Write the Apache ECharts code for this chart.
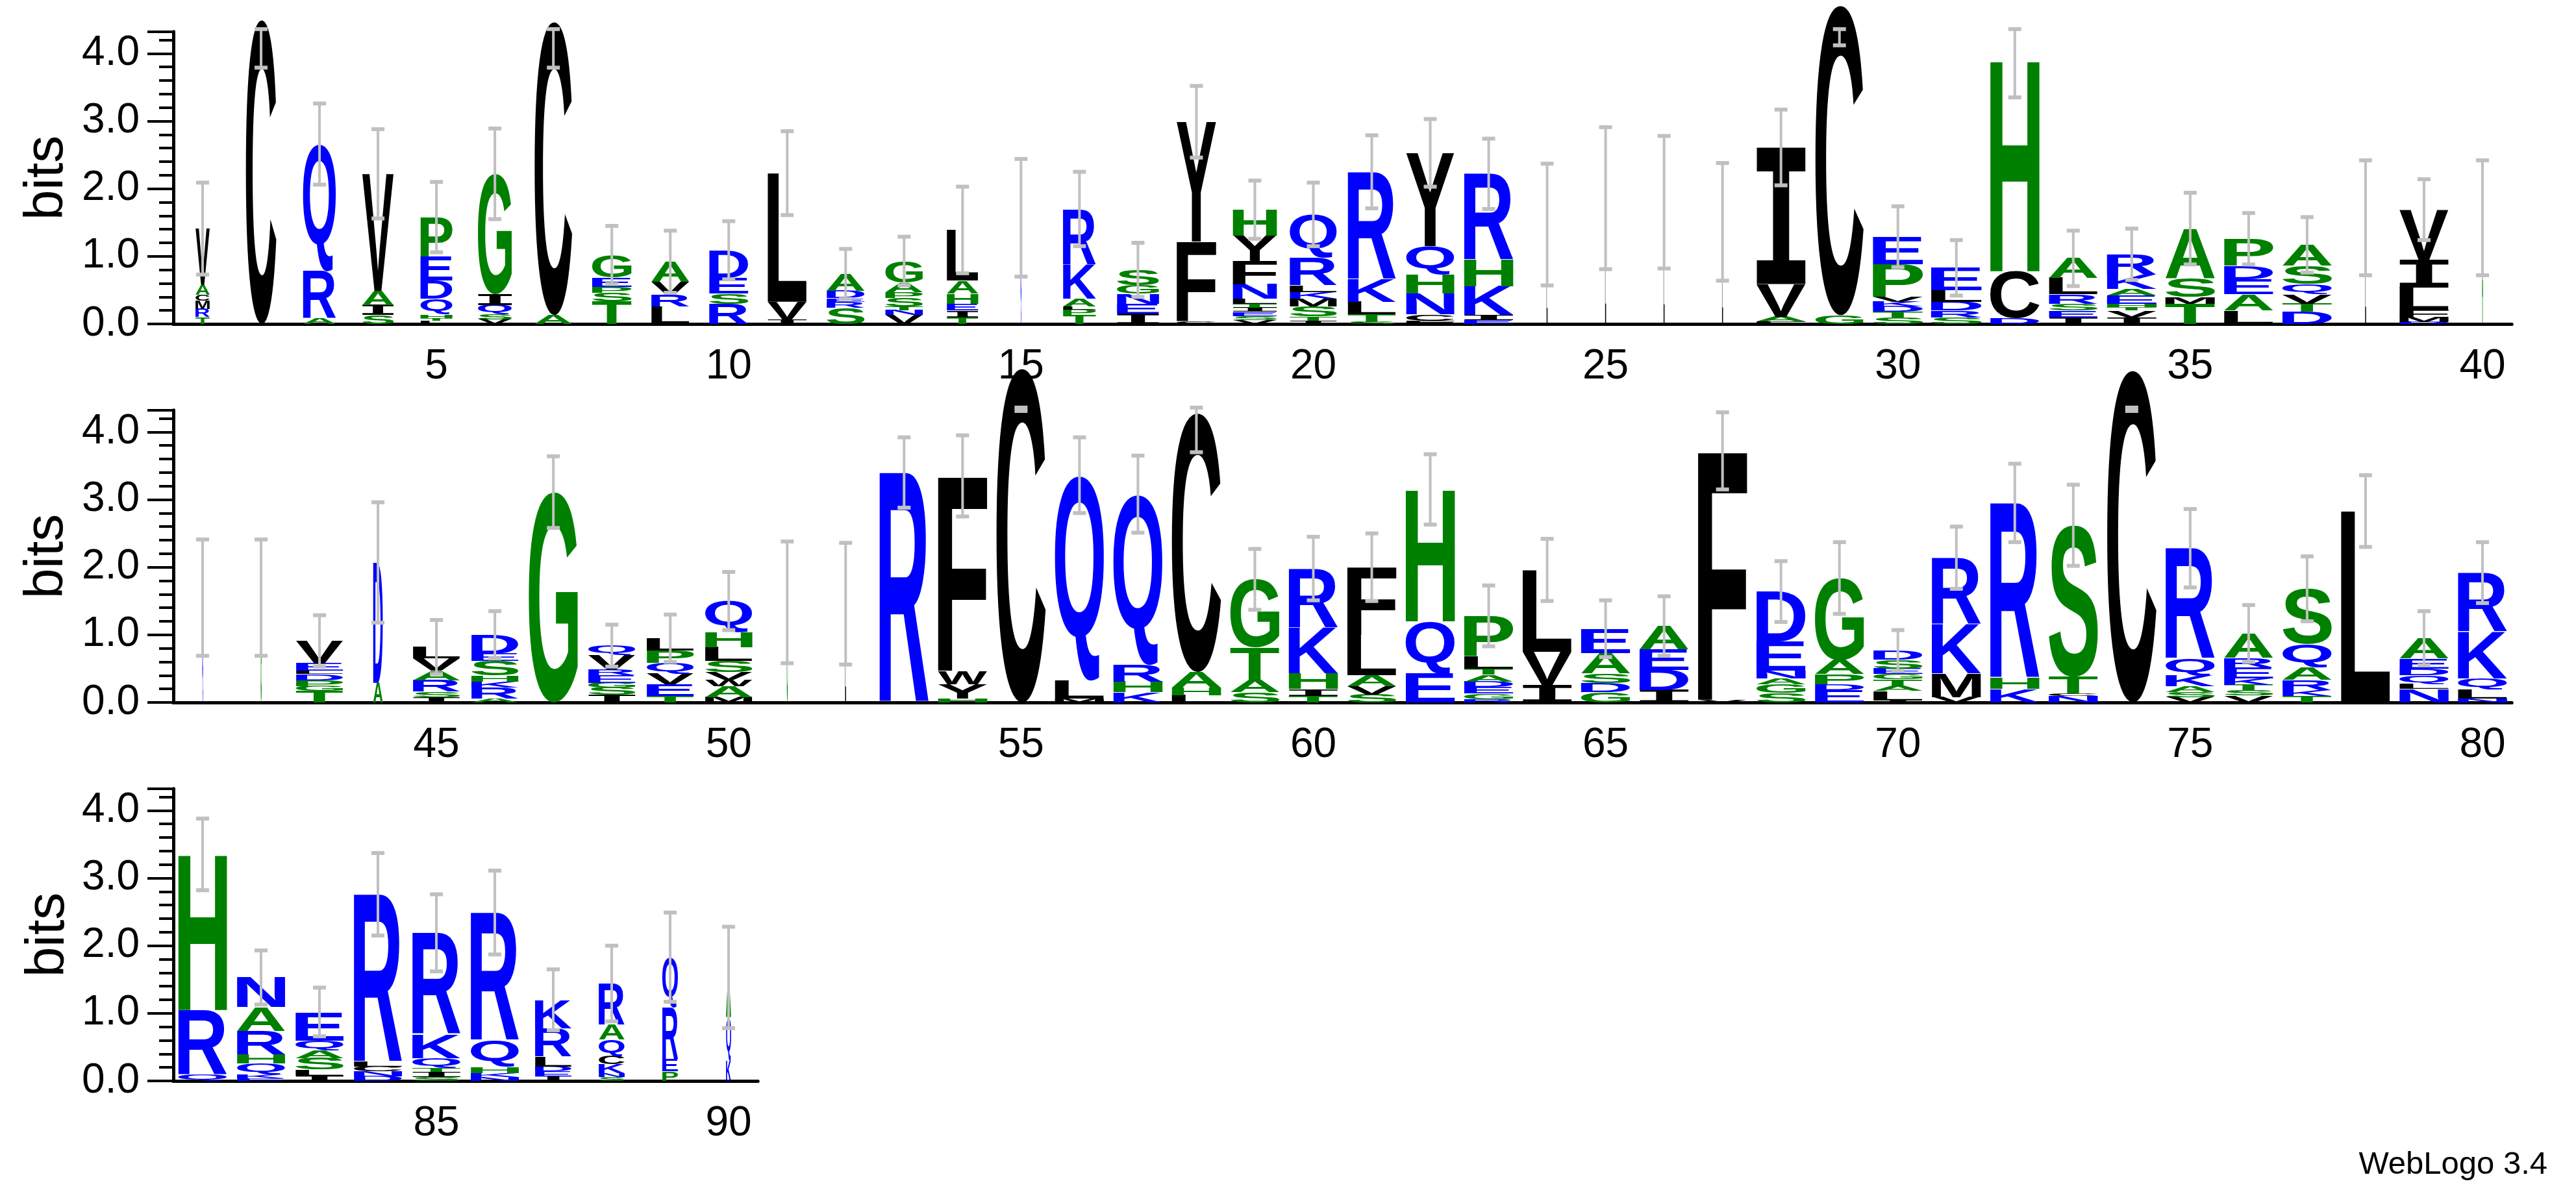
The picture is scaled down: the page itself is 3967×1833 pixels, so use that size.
<!DOCTYPE html>
<html><head><meta charset="utf-8">
<script src="https://cdn.jsdelivr.net/npm/echarts@6/dist/echarts.min.js"></script>
<style>html,body{margin:0;padding:0;background:#fff}#c{width:3967px;height:1833px}</style>
</head><body><div id="c"></div>
<script>
// position numbers per row
const row1 = Array.from({length:40},(_,i)=>String(i+1));
const row2 = Array.from({length:40},(_,i)=>String(i+41));
const row3 = Array.from({length:10},(_,i)=>String(i+81));
// letter stacks (bottom -> top), bits
const stacks = [
"T:.1 R:.12 M:.12 C:.09 A:.15 V:.83","C:4.5","A:.08 R:.7 Q:1.88","S:.13 I:.15 A:.21 V:1.73",
"L:.05 T:.04 H:.05 Q:.23 D:.27 E:.36 P:.58","V:.07 S:.07 Q:.14 I:.16 G:1.78","A:.13 C:4.34",
"T:.33 S:.13 P:.09 E:.14 G:.33","L:.26 R:.17 V:.19 A:.3","R:.3 S:.15 E:.23 D:.41","I:.06 V:.27 L:1.9",
"S:.24 R:.09 E:.05 D:.11 A:.25","V:.13 N:.07 T:.06 S:.12 P:.09 A:.14 G:.32","T:.1 I:.1 E:.1 H:.15 A:.19 L:.75",
"Q:1.57","T:.13 P:.08 L:.05 A:.11 K:.51 R:.82","I:.15 E:.15 N:.15 G:.12 S:.23","C:.04 F:1.18 Y:1.77",
"V:.06 S:.06 E:.06 I:.06 T:.06 L:.07 N:.22 F:.34 Y:.38 H:.38","I:.05 T:.06 S:.15 M:.11 K:.1 L:.1 R:.41 Q:.64",
"S:.03 T:.11 L:.19 K:.33 R:1.59","F:.05 C:.09 N:.31 H:.28 Q:.42 Y:1.38","E:.06 I:.07 K:.43 H:.39 R:1.27",
"L:1.47","L:1.86","L:1.8","L:1.51","F:.04 A:.07 V:.48 I:2.02","G:.13 C:4.58","S:.1 T:.08 D:.08 K:.07 V:.07 P:.48 E:.41",
"S:.1 R:.1 D:.13 L:.17 E:.33","D:.09 C:.69 H:3.12","I:.1 E:.1 S:.1 R:.14 L:.24 A:.29",
"I:.1 V:.1 T:.05 H:.05 E:.12 A:.1 K:.21 R:.3","T:.3 M:.1 S:.28 A:.73","L:.2 A:.24 E:.22 D:.2 P:.4",
"D:.18 T:.12 V:.14 Q:.15 S:.27 A:.31","L:1.57","D:.03 M:.07 F:.11 L:.33 I:.41 V:.74","A:1.57",
"Q:1.55","G:1.55","T:.17 G:.07 P:.09 D:.09 L:.05 E:.11 V:.33","A:.29 D:1.78","I:.08 S:.08 R:.17 A:.14 V:.18 L:.17",
"A:.06 R:.16 K:.09 H:.09 S:.21 E:.11 D:.28","G:3.11","I:.11 S:.11 G:.07 E:.11 R:.09 V:.21 Q:.14",
"T:.1 E:.17 V:.16 Q:.16 P:.18 L:.18","M:.08 A:.16 W:.1 V:.11 S:.16 L:.21 H:.22 Q:.46","G:1.48","L:1.46",
"R:3.4","H:.06 Y:.21 W:.2 F:2.88","C:4.94","M:.06 L:.27 Q:3.03","K:.15 H:.16 R:.25 Q:2.52","L:.11 H:.11 A:.23 C:3.83",
"S:.15 A:.18 T:.48 G:1.01","T:.1 I:.1 H:.23 K:.68 R:.87","S:.12 V:.12 A:.16 L:.6 F:1.0","E:.43 Q:.77 H:1.95",
"R:.05 G:.08 E:.1 D:.08 A:.1 T:.09 L:.18 P:.6","I:.26 V:.49 L:1.21","G:.15 D:.14 S:.14 A:.3 E:.36","I:.18 D:.3 E:.3 A:.35",
"V:.04 F:3.68","S:.14 G:.13 A:.09 N:.11 E:.43 D:.74","E:.18 D:.09 P:.15 A:.21 G:1.21","I:.03 L:.14 A:.07 T:.1 G:.08 E:.08 S:.13 D:.14",
"V:.08 M:.35 K:.73 R:.98","K:.2 H:.16 R:2.59","N:.1 C:.03 T:.25 S:2.24","C:4.91","V:.08 S:.07 A:.09 K:.16 Q:.25 R:1.63",
"V:.1 S:.08 T:.08 K:.1 E:.16 R:.14 A:.36","T:.1 K:.08 R:.15 A:.19 Q:.34 S:.82","L:2.83","N:.2 L:.07 Q:.13 D:.1 E:.15 A:.3",
"N:.06 L:.14 Q:.16 K:.69 R:.87",
"Q:.1 R:.95 H:2.3","E:.04 K:.06 Q:.16 H:.13 R:.35 A:.35 N:.44","I:.08 L:.09 S:.17 A:.11 Q:.15 E:.42","D:.07 N:.07 C:.07 L:.07 R:2.48",
"S:.06 I:.07 T:.06 Q:.15 K:.35 R:1.5","N:.06 K:.06 H:.09 Q:.39 R:1.89","I:.07 E:.07 D:.07 L:.15 R:.42 K:.42",
"S:.06 N:.06 K:.13 C:.12 Q:.24 A:.22 R:.61","P:.14 E:.18 R:.77 Q:.74","K:.3 Q:.64 A:.59"
];
// fraction of sequences occupied (column width)
const occupancy = [
.28,.6,.65,.62,.63,.67,.74,.78,.75,.77,.77,.75,.74,.62,.02,.65,.83,.78,.87,.93,.95,.95,.97,.02,.02,.02,.02,.97,.95,.99,1,.97,.96,.98,.98,.97,.98,.02,.97,.02,
.02,.02,.93,.19,.93,.93,.97,.93,.93,.93,.02,.02,.97,.97,.97,.97,.97,.97,.97,.97,.97,.97,.97,.97,.97,.97,.97,.97,.97,.97,.97,.97,.97,.97,.97,.97,.97,.97,.97,.97,
.96,.95,.95,.95,.95,.95,.72,.51,.31,.1
];
// error bar half-length (bits)
const errHalf = [
.68,.71,.6,.66,.52,.67,.68,.43,.46,.43,.62,.37,.36,.64,.87,.55,.4,.53,.43,.47,.54,.5,.52,.9,1.05,.98,.87,.56,.59,.45,.41,.55,.41,.38,.53,.38,.41,.85,.45,.85,
.86,.86,.38,.89,.4,.35,.53,.31,.35,.43,.9,.9,.52,.6,.63,.56,.57,.58,.45,.47,.5,.52,.45,.46,.42,.44,.57,.45,.53,.3,.46,.58,.6,.6,.58,.42,.48,.53,.4,.45,
.53,.4,.36,.61,.57,.62,.45,.56,.66,.75
];
const yTicks = [0,1,2,3,4];

const GREEN='#008000', BLUE='#0000ff', BLACK='#000000';
function colorOf(L){ if('GSTHAP'.includes(L)) return GREEN; if('QRKNDE'.includes(L)) return BLUE; return BLACK; }
const FONT='bold 200px "Liberation Sans", Arial, sans-serif';
const FONT_I='bold 200px "DejaVu Sans Mono", monospace';
function fontOf(L){ return L==='I'?FONT_I:FONT; }
const metrics={};
function measure(L){
  if(metrics[L]) return metrics[L];
  const cv=document.createElement('canvas').getContext('2d');
  cv.font=fontOf(L); cv.textBaseline='middle'; cv.textAlign='left';
  const m=cv.measureText(L);
  return metrics[L]={l:m.actualBoundingBoxLeft,r:m.actualBoundingBoxRight,a:m.actualBoundingBoxAscent,d:m.actualBoundingBoxDescent};
}

function build(){
  const chart=echarts.init(document.getElementById('c'),null,{renderer:'canvas'});
  const rows=[{cats:row1,off:0,top:49,left:267,right:99},{cats:row2,off:40,top:632,left:267,right:99},{cats:row3,off:80,top:1215,left:267,width:900}];
  const H=450, YMAX=4.32;
  const grid=[],xAxis=[],yAxis=[],series=[];
  const axisFont={fontFamily:'"Liberation Sans", Arial, sans-serif',fontSize:64,color:'#000'};
  rows.forEach((r,ri)=>{
    const g={top:r.top,height:H,left:r.left};
    if(r.width) g.width=r.width; else g.right=r.right;
    grid.push(g);
    const lab=(i,v)=>(+v)%5===0;
    xAxis.push({type:'category',gridIndex:ri,position:'bottom',data:r.cats,boundaryGap:true,
      axisLine:{lineStyle:{color:'#000',width:5}},
      axisTick:{alignWithLabel:true,interval:lab,length:22,lineStyle:{width:4,color:'#000'}},
      axisLabel:Object.assign({interval:lab,margin:34},axisFont),splitLine:{show:false}});
    xAxis.push({type:'category',gridIndex:ri,position:'bottom',data:r.cats,boundaryGap:true,
      axisLine:{lineStyle:{color:'#000',width:5}},
      axisTick:{alignWithLabel:true,interval:0,length:12,lineStyle:{width:4,color:'#000'}},
      axisLabel:{show:false},splitLine:{show:false}});
    yAxis.push({type:'value',gridIndex:ri,position:'left',min:0,max:YMAX,interval:1,
      name:'bits',nameLocation:'middle',nameGap:150,nameRotate:90,
      nameTextStyle:{fontFamily:'"Liberation Sans", Arial, sans-serif',fontSize:84,color:'#000'},
      axisLine:{show:true,lineStyle:{color:'#000',width:5}},
      axisTick:{show:true,length:40,lineStyle:{width:4,color:'#000'}},
      axisLabel:Object.assign({margin:52,formatter:v=>yTicks.includes(v)?v.toFixed(1):''},axisFont),
      splitLine:{show:false}});
    yAxis.push({type:'value',gridIndex:ri,position:'left',min:0,max:YMAX,interval:0.2,
      axisLine:{show:true,lineStyle:{color:'#000',width:5}},
      axisTick:{show:true,length:22,lineStyle:{width:4,color:'#000'}},
      axisLabel:{show:false},splitLine:{show:false}});
    // letters
    const marks=[];
    r.cats.forEach((c,ci)=>{
      const p=r.off+ci; let y=0;
      stacks[p].split(' ').forEach(tok=>{
        const [L,h]=tok.split(':'); const hv=parseFloat(h);
        marks.push({value:[ci,y,y+hv,occupancy[p]],L:L}); y+=hv;
      });
    });
    series.push({type:'custom',xAxisIndex:2*ri,yAxisIndex:2*ri,clip:false,z:2,data:marks.map(m=>m.value),
      renderItem:(params,api)=>{
        const mk=marks[params.dataIndex]; const L=mk.L;
        const ci=api.value(0), y0=api.value(1), y1=api.value(2), occ=api.value(3);
        const pb=api.coord([ci,y0]), pt=api.coord([ci,y1]);
        const cw=api.size([1,0])[0]*0.867*occ;
        const h=pb[1]-pt[1]; if(h<=0.3) return null;
        const m=measure(L);
        const sx=cw/(m.l+m.r), sy=h/(m.a+m.d);
        const x0=pb[0]-cw/2;
        return {type:'text',x:x0+m.l*sx,y:pt[1]+m.a*sy,scaleX:sx,scaleY:sy,
          style:{text:L,font:fontOf(L),fill:colorOf(L),align:'left',verticalAlign:'middle',textAlign:'left',textVerticalAlign:'middle'}};
      }});
    // error bars
    const errs=r.cats.map((c,ci)=>{
      const p=r.off+ci;
      const tot=stacks[p].split(' ').reduce((s,t)=>s+parseFloat(t.split(':')[1]),0);
      return [ci,tot-errHalf[p],Math.min(tot+errHalf[p],4.36)];
    });
    series.push({type:'custom',xAxisIndex:2*ri,yAxisIndex:2*ri,clip:false,z:3,data:errs,
      renderItem:(params,api)=>{
        const ci=api.value(0);
        const a=api.coord([ci,api.value(1)]), b=api.coord([ci,api.value(2)]);
        const st={stroke:'#c0c0c0',lineWidth:4};
        return {type:'group',children:[
          {type:'line',shape:{x1:a[0],y1:a[1],x2:b[0],y2:b[1]},style:st},
          {type:'line',shape:{x1:a[0]-10,y1:a[1],x2:a[0]+10,y2:a[1]},style:{stroke:'#c0c0c0',lineWidth:6}},
          {type:'line',shape:{x1:b[0]-10,y1:b[1],x2:b[0]+10,y2:b[1]},style:{stroke:'#c0c0c0',lineWidth:6}}
        ]};
      }});
  });
  chart.setOption({animation:false,backgroundColor:'#fff',grid,xAxis,yAxis,series,
    graphic:[{type:'text',right:44,bottom:14,style:{text:'WebLogo 3.4',font:'49px "Liberation Sans", Arial, sans-serif',fill:'#000'}}]});
}
if(document.fonts&&document.fonts.load){Promise.all([document.fonts.load(FONT),document.fonts.load(FONT_I)]).then(build,build);}else build();
</script></body></html>
